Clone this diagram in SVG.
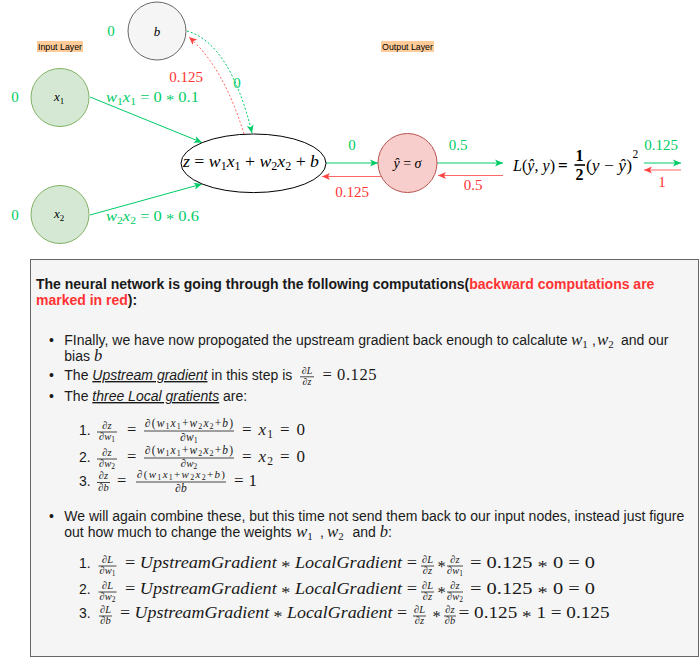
<svg xmlns="http://www.w3.org/2000/svg" width="700" height="658" viewBox="0 0 700 658">
<defs>
<marker id="ag" markerWidth="9" markerHeight="8" refX="8" refY="4" orient="auto" markerUnits="userSpaceOnUse"><path d="M0,0.5 L8,4 L0,7.5 L2,4 z" fill="#00cc66"/></marker>
<marker id="ar" markerWidth="9" markerHeight="8" refX="8" refY="4" orient="auto" markerUnits="userSpaceOnUse"><path d="M0,0.5 L8,4 L0,7.5 L2,4 z" fill="#ff4444"/></marker>
</defs>
<style>
.sans{font-family:"Liberation Sans",Arial,sans-serif}
.mi{font-family:"Liberation Serif","Times New Roman",serif;font-style:italic}
.mr{font-family:"Liberation Serif","Times New Roman",serif;font-style:normal}
.g{fill:#00cc66}
.rd{fill:#ff3333}
.k{fill:#1a1a1a}
.eg{stroke:#00cc66;fill:none;stroke-width:1}
.er{stroke:#ff6666;fill:none;stroke-width:1}
.bar{stroke:#1a1a1a;stroke-width:0.8}
.lbl{font-family:"Liberation Serif","Times New Roman",serif;font-size:15px}
</style>
<rect width="700" height="658" fill="#ffffff"/>

<g id="input-layer-label">
<rect x="37" y="41" width="46" height="11" fill="#ffcc99"/>
<text class="sans" x="60" y="49.5" font-size="8.8" text-anchor="middle" fill="#000">Input Layer</text>
</g>
<g id="output-layer-label">
<rect x="381" y="41" width="53" height="11" fill="#ffcc99"/>
<text class="sans" x="407.5" y="49.5" font-size="8.8" text-anchor="middle" fill="#000">Output Layer</text>
</g>

<g id="connectors">
<line class="eg" x1="90" y1="97" x2="202" y2="142.5" marker-end="url(#ag)"/>
<line class="eg" x1="90" y1="215" x2="202" y2="184" marker-end="url(#ag)"/>
<path class="eg" d="M187,31 C216,39 238,75 252,133" stroke-dasharray="2 2" marker-end="url(#ag)"/>
<path class="er" d="M244,134 C232,95 215,60 189,37" stroke-dasharray="2 2" marker-end="url(#ar)"/>
<line class="eg" x1="326" y1="163" x2="378" y2="163" marker-end="url(#ag)"/>
<line class="er" x1="381" y1="176.5" x2="322" y2="176.5" marker-end="url(#ar)"/>
<line class="eg" x1="437" y1="163" x2="503" y2="163" marker-end="url(#ag)"/>
<line class="er" x1="503" y1="175.5" x2="438" y2="175.5" marker-end="url(#ar)"/>
<line class="eg" x1="644" y1="163" x2="681" y2="163" marker-end="url(#ag)"/>
<line class="er" x1="681" y1="170" x2="644" y2="170" marker-end="url(#ar)"/>
<text class="lbl rd" x="186" y="82" text-anchor="middle">0.125</text>
<text class="lbl g" x="237" y="88" text-anchor="middle">0</text>
<text class="mi g" x="106" y="102" font-size="15.5" textLength="93" lengthAdjust="spacingAndGlyphs">w<tspan class="mr" font-size="11" dy="3">1</tspan><tspan dy="-3">x</tspan><tspan class="mr" font-size="11" dy="3">1</tspan><tspan class="mr" dy="-3"> = 0 </tspan><tspan class="mr" dy="3">*</tspan><tspan class="mr" dy="-3"> 0.1</tspan></text>
<text class="mi g" x="106" y="221" font-size="15.5" textLength="93" lengthAdjust="spacingAndGlyphs">w<tspan class="mr" font-size="11" dy="3">2</tspan><tspan dy="-3">x</tspan><tspan class="mr" font-size="11" dy="3">2</tspan><tspan class="mr" dy="-3"> = 0 </tspan><tspan class="mr" dy="3">*</tspan><tspan class="mr" dy="-3"> 0.6</tspan></text>
<text class="lbl g" x="352" y="150" text-anchor="middle">0</text>
<text class="lbl rd" x="352" y="197" text-anchor="middle">0.125</text>
<text class="lbl g" x="458" y="150" text-anchor="middle">0.5</text>
<text class="lbl rd" x="473" y="190" text-anchor="middle">0.5</text>
<text class="lbl g" x="661" y="150" text-anchor="middle">0.125</text>
<text class="lbl rd" x="662" y="187" text-anchor="middle">1</text>
</g>

<g id="node-b">
<circle cx="157" cy="31" r="29" fill="#f5f5f5" stroke="#666666"/>
<text class="mi" x="157" y="35.5" font-size="13" text-anchor="middle" fill="#000">b</text>
<text class="lbl g" x="111" y="36" text-anchor="middle">0</text>
</g>
<g id="node-x1">
<circle cx="60" cy="97.5" r="29" fill="#d5e8d4" stroke="#82b366"/>
<text class="mi" x="54" y="101" font-size="13" fill="#000">x<tspan class="mr" font-size="9" dy="2.5">1</tspan></text>
<text class="lbl g" x="15" y="102" text-anchor="middle">0</text>
</g>
<g id="node-x2">
<circle cx="60" cy="214.5" r="29" fill="#d5e8d4" stroke="#82b366"/>
<text class="mi" x="54" y="218" font-size="13" fill="#000">x<tspan class="mr" font-size="9" dy="2.5">2</tspan></text>
<text class="lbl g" x="15" y="220" text-anchor="middle">0</text>
</g>
<g id="node-z">
<ellipse cx="253.5" cy="163.3" rx="72.5" ry="29.3" fill="#ffffff" stroke="#000000"/>
<text class="mi" x="183" y="167" font-size="17" fill="#000" textLength="136" lengthAdjust="spacingAndGlyphs">z<tspan class="mr"> = </tspan>w<tspan class="mr" font-size="11.5" dy="3">1</tspan><tspan dy="-3">x</tspan><tspan class="mr" font-size="11.5" dy="3">1</tspan><tspan class="mr" dy="-3"> + </tspan>w<tspan class="mr" font-size="11.5" dy="3">2</tspan><tspan dy="-3">x</tspan><tspan class="mr" font-size="11.5" dy="3">2</tspan><tspan class="mr" dy="-3"> + </tspan>b</text>
</g>
<g id="node-yhat">
<circle cx="407.5" cy="163" r="29.5" fill="#f8cecc" stroke="#b85450"/>
<text class="mi" x="407.5" y="168" font-size="14" text-anchor="middle" fill="#000">ŷ<tspan class="mr"> = </tspan>σ</text>
</g>
<g id="node-loss">
<text class="mi" x="513" y="171" font-size="17" fill="#000" textLength="42" lengthAdjust="spacingAndGlyphs">L<tspan class="mr">(</tspan>ŷ<tspan class="mr">, </tspan>y<tspan class="mr">)</tspan></text>
<text class="mr" x="558" y="171" font-size="17" font-weight="bold" fill="#000">=</text>
<text class="mr" x="579.5" y="161" font-size="16" font-weight="bold" text-anchor="middle" fill="#000">1</text>
<line x1="574.5" y1="165" x2="585" y2="165" stroke="#000" stroke-width="1.6"/>
<text class="mr" x="579.5" y="180" font-size="16" font-weight="bold" text-anchor="middle" fill="#000">2</text>
<text class="mi" x="586" y="171" font-size="17" fill="#000" textLength="46" lengthAdjust="spacingAndGlyphs"><tspan class="mr">(</tspan>y<tspan class="mr"> − </tspan>ŷ<tspan class="mr">)</tspan></text>
<text class="mr" x="632.5" y="158" font-size="11.5" fill="#000">2</text>
</g>

<g id="explanation">
<rect x="30.5" y="259.5" width="668" height="397" fill="#f5f5f5" stroke="#666666"/>
<text class="sans k" x="36" y="289" font-size="14" font-weight="bold">The neural network is going through the following computations(<tspan class="rd">backward computations are</tspan></text>
<text class="sans k" x="36" y="305" font-size="14" font-weight="bold"><tspan class="rd">marked in red</tspan>):</text>

<g class="sans k" font-size="14">
<text x="49" y="345">•</text>
<text x="49" y="380">•</text>
<text x="49" y="401">•</text>
<text x="49" y="521">•</text>
</g>

<text class="sans k" x="64.3" y="345" font-size="14">FInally, we have now propogated the upstream gradient back enough to calcalute</text>
<text class="mi k" x="571" y="345" font-size="17">w<tspan class="mr" font-size="11" dy="3">1</tspan></text>
<text class="sans k" x="592" y="345" font-size="14">,</text>
<text class="mi k" x="597" y="345" font-size="17">w<tspan class="mr" font-size="11" dy="3">2</tspan></text>
<text class="sans k" x="621" y="345" font-size="14">and our</text>
<text class="sans k" x="64.3" y="361" font-size="14">bias <tspan class="mi" font-size="16.5">b</tspan></text>

<text class="sans k" x="64.3" y="380" font-size="14">The <tspan font-style="italic" text-decoration="underline">Upstream gradient</tspan> in this step is</text>
<text class="mi k" x="307" y="373.5" font-size="10" text-anchor="middle">∂L</text>
<line class="bar" x1="300" y1="376.8" x2="314" y2="376.8"/>
<text class="mi k" x="307" y="385" font-size="10" text-anchor="middle">∂z</text>
<text class="mr k" x="322.5" y="380" font-size="16.5" textLength="54" lengthAdjust="spacing">= 0.125</text>

<text class="sans k" x="64.3" y="401" font-size="14">The <tspan font-style="italic" text-decoration="underline">three Local gratients</tspan> are:</text>

<!-- local gradients -->
<text class="sans k" x="79" y="435" font-size="14">1.</text>
<text class="mi k" x="107" y="428.5" font-size="10.5" text-anchor="middle">∂z</text>
<line class="bar" x1="97" y1="432" x2="117" y2="432"/>
<text class="mi k" x="107" y="440" font-size="10.5" text-anchor="middle">∂w<tspan class="mr" font-size="7.5" dy="2">1</tspan></text>
<text class="mr k" x="127" y="435" font-size="16.5">=</text>
<text class="mi k" x="189" y="427" font-size="11.5" text-anchor="middle" textLength="88" lengthAdjust="spacing">∂<tspan class="mr">(</tspan>w<tspan class="mr" font-size="8" dy="2">1</tspan><tspan dy="-2">x</tspan><tspan class="mr" font-size="8" dy="2">1</tspan><tspan class="mr" dy="-2">+</tspan>w<tspan class="mr" font-size="8" dy="2">2</tspan><tspan dy="-2">x</tspan><tspan class="mr" font-size="8" dy="2">2</tspan><tspan class="mr" dy="-2">+</tspan>b<tspan class="mr">)</tspan></text>
<line class="bar" x1="144" y1="431" x2="234" y2="431"/>
<text class="mi k" x="189" y="440.5" font-size="11.5" text-anchor="middle">∂w<tspan class="mr" font-size="8" dy="2">1</tspan></text>
<text class="mi k" x="242" y="435" font-size="17" textLength="63" lengthAdjust="spacing"><tspan class="mr">= </tspan>x<tspan class="mr" font-size="11.5" dy="3">1</tspan><tspan class="mr" dy="-3"> = 0</tspan></text>

<text class="sans k" x="79" y="462" font-size="14">2.</text>
<text class="mi k" x="107" y="455.5" font-size="10.5" text-anchor="middle">∂z</text>
<line class="bar" x1="97" y1="459" x2="117" y2="459"/>
<text class="mi k" x="107" y="467" font-size="10.5" text-anchor="middle">∂w<tspan class="mr" font-size="7.5" dy="2">2</tspan></text>
<text class="mr k" x="127" y="462" font-size="16.5">=</text>
<text class="mi k" x="189" y="454" font-size="11.5" text-anchor="middle" textLength="88" lengthAdjust="spacing">∂<tspan class="mr">(</tspan>w<tspan class="mr" font-size="8" dy="2">1</tspan><tspan dy="-2">x</tspan><tspan class="mr" font-size="8" dy="2">1</tspan><tspan class="mr" dy="-2">+</tspan>w<tspan class="mr" font-size="8" dy="2">2</tspan><tspan dy="-2">x</tspan><tspan class="mr" font-size="8" dy="2">2</tspan><tspan class="mr" dy="-2">+</tspan>b<tspan class="mr">)</tspan></text>
<line class="bar" x1="144" y1="458" x2="234" y2="458"/>
<text class="mi k" x="189" y="467" font-size="11" text-anchor="middle">∂w<tspan class="mr" font-size="7.5" dy="1.5">2</tspan></text>
<text class="mi k" x="242" y="462" font-size="17" textLength="63" lengthAdjust="spacing"><tspan class="mr">= </tspan>x<tspan class="mr" font-size="11.5" dy="3">2</tspan><tspan class="mr" dy="-3"> = 0</tspan></text>

<text class="sans k" x="79" y="485.5" font-size="14">3.</text>
<text class="mi k" x="103.5" y="479" font-size="10.5" text-anchor="middle">∂z</text>
<line class="bar" x1="97" y1="482.5" x2="110" y2="482.5"/>
<text class="mi k" x="103.5" y="491" font-size="10.5" text-anchor="middle">∂b</text>
<text class="mr k" x="117" y="485.5" font-size="16.5">=</text>
<text class="mi k" x="181" y="478" font-size="11" text-anchor="middle" textLength="88" lengthAdjust="spacing">∂<tspan class="mr">(</tspan>w<tspan class="mr" font-size="8" dy="2">1</tspan><tspan dy="-2">x</tspan><tspan class="mr" font-size="8" dy="2">1</tspan><tspan class="mr" dy="-2">+</tspan>w<tspan class="mr" font-size="8" dy="2">2</tspan><tspan dy="-2">x</tspan><tspan class="mr" font-size="8" dy="2">2</tspan><tspan class="mr" dy="-2">+</tspan>b<tspan class="mr">)</tspan></text>
<line class="bar" x1="136" y1="482" x2="226" y2="482"/>
<text class="mi k" x="181" y="492" font-size="11.5" text-anchor="middle">∂b</text>
<text class="mr k" x="234" y="485.5" font-size="17" textLength="23" lengthAdjust="spacing">= 1</text>

<!-- bullet 4 -->
<text class="sans k" x="64.3" y="521" font-size="14">We will again combine these, but this time not send them back to our input nodes, instead just figure</text>
<text class="sans k" x="64.3" y="537" font-size="14">out how much to change the weights</text>
<text class="mi k" x="296" y="537" font-size="17">w<tspan class="mr" font-size="11" dy="3">1</tspan></text>
<text class="sans k" x="320" y="537" font-size="14">,</text>
<text class="mi k" x="327" y="537" font-size="17">w<tspan class="mr" font-size="11" dy="3">2</tspan></text>
<text class="sans k" x="352.5" y="537" font-size="14">and <tspan class="mi" font-size="16.5">b</tspan>:</text>

<text class="sans k" x="79" y="568" font-size="14">1.</text>
<text class="mi k" x="107.5" y="563" font-size="10.5" text-anchor="middle">∂L</text>
<line class="bar" x1="98.5" y1="566" x2="116.5" y2="566"/>
<text class="mi k" x="107.5" y="574" font-size="10.5" text-anchor="middle">∂w<tspan class="mr" font-size="7.5" dy="2">1</tspan></text>
<text class="mi k" x="125" y="568" font-size="16.5" textLength="292" lengthAdjust="spacingAndGlyphs"><tspan class="mr">= </tspan>UpstreamGradient<tspan class="mr"> </tspan><tspan class="mr" dy="3.5">*</tspan><tspan class="mr" dy="-3.5"> </tspan>LocalGradient<tspan class="mr"> =</tspan></text>
<text class="mi k" x="427.5" y="563" font-size="10.5" text-anchor="middle">∂L</text>
<line class="bar" x1="421" y1="566" x2="434" y2="566"/>
<text class="mi k" x="427.5" y="574" font-size="10.5" text-anchor="middle">∂z</text>
<text class="mr k" x="441.7" y="571.5" font-size="16.5" text-anchor="middle">*</text>
<text class="mi k" x="455" y="563" font-size="10.5" text-anchor="middle">∂z</text>
<line class="bar" x1="447" y1="566" x2="463" y2="566"/>
<text class="mi k" x="455" y="574" font-size="10.5" text-anchor="middle">∂w<tspan class="mr" font-size="7.5" dy="2">1</tspan></text>
<text class="mr k" x="470" y="568" font-size="16.5" textLength="125" lengthAdjust="spacingAndGlyphs">=  0.125  <tspan dy="3.5">*</tspan><tspan dy="-3.5">  0  =  0</tspan></text>

<text class="sans k" x="79" y="594" font-size="14">2.</text>
<text class="mi k" x="107.5" y="589" font-size="10.5" text-anchor="middle">∂L</text>
<line class="bar" x1="98.5" y1="592" x2="116.5" y2="592"/>
<text class="mi k" x="107.5" y="600" font-size="10.5" text-anchor="middle">∂w<tspan class="mr" font-size="7.5" dy="2">2</tspan></text>
<text class="mi k" x="125" y="594" font-size="16.5" textLength="292" lengthAdjust="spacingAndGlyphs"><tspan class="mr">= </tspan>UpstreamGradient<tspan class="mr"> </tspan><tspan class="mr" dy="3.5">*</tspan><tspan class="mr" dy="-3.5"> </tspan>LocalGradient<tspan class="mr"> =</tspan></text>
<text class="mi k" x="427.5" y="589" font-size="10.5" text-anchor="middle">∂L</text>
<line class="bar" x1="421" y1="592" x2="434" y2="592"/>
<text class="mi k" x="427.5" y="600" font-size="10.5" text-anchor="middle">∂z</text>
<text class="mr k" x="441.7" y="597.5" font-size="16.5" text-anchor="middle">*</text>
<text class="mi k" x="455" y="589" font-size="10.5" text-anchor="middle">∂z</text>
<line class="bar" x1="447" y1="592" x2="463" y2="592"/>
<text class="mi k" x="455" y="600" font-size="10.5" text-anchor="middle">∂w<tspan class="mr" font-size="7.5" dy="2">2</tspan></text>
<text class="mr k" x="470" y="594" font-size="16.5" textLength="125" lengthAdjust="spacingAndGlyphs">=  0.125  <tspan dy="3.5">*</tspan><tspan dy="-3.5">  0  =  0</tspan></text>

<text class="sans k" x="79" y="618" font-size="14">3.</text>
<text class="mi k" x="105.5" y="613" font-size="10.5" text-anchor="middle">∂L</text>
<line class="bar" x1="99" y1="616" x2="112" y2="616"/>
<text class="mi k" x="105.5" y="624" font-size="10.5" text-anchor="middle">∂b</text>
<text class="mi k" x="120" y="618" font-size="16.5" textLength="287" lengthAdjust="spacingAndGlyphs"><tspan class="mr">= </tspan>UpstreamGradient<tspan class="mr"> </tspan><tspan class="mr" dy="3.5">*</tspan><tspan class="mr" dy="-3.5"> </tspan>LocalGradient<tspan class="mr"> =</tspan></text>
<text class="mi k" x="419.5" y="613" font-size="10.5" text-anchor="middle">∂L</text>
<line class="bar" x1="413" y1="616" x2="426" y2="616"/>
<text class="mi k" x="419.5" y="624" font-size="10.5" text-anchor="middle">∂z</text>
<text class="mr k" x="436.5" y="621.5" font-size="16.5" text-anchor="middle">*</text>
<text class="mi k" x="450" y="613" font-size="10.5" text-anchor="middle">∂z</text>
<line class="bar" x1="444" y1="616" x2="456" y2="616"/>
<text class="mi k" x="450" y="624" font-size="10.5" text-anchor="middle">∂b</text>
<text class="mr k" x="458.5" y="618" font-size="16.5" textLength="151" lengthAdjust="spacingAndGlyphs">=  0.125  <tspan dy="3.5">*</tspan><tspan dy="-3.5">  1  =  0.125</tspan></text>
</g>
</svg>
